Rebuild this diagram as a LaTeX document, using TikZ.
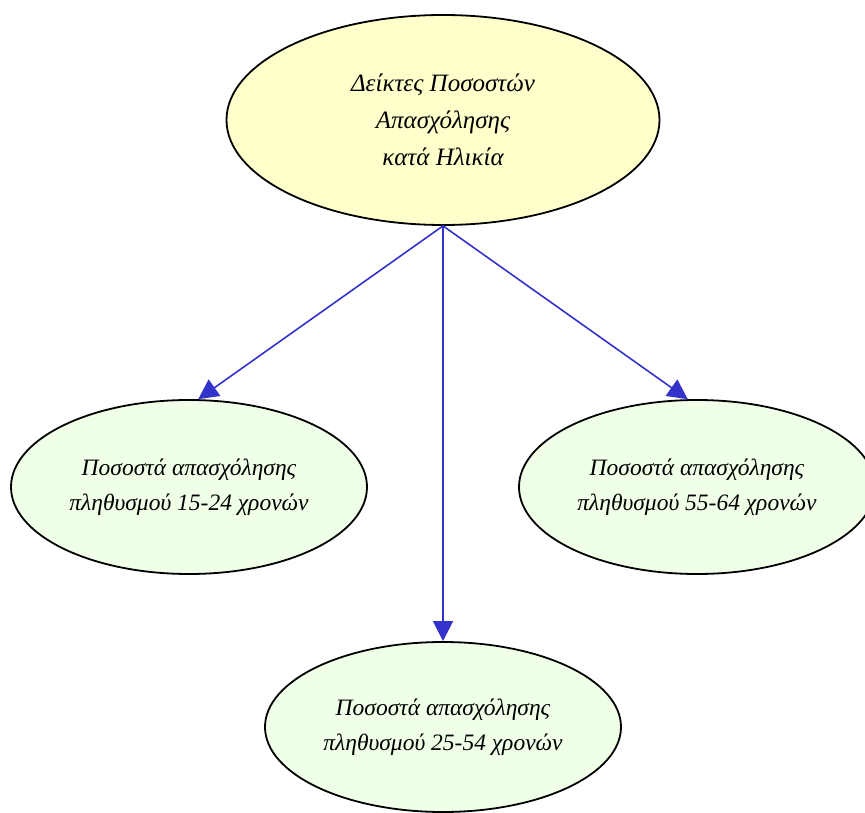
\documentclass[tikz,border=0pt]{standalone}
\usepackage{fontspec}
\setmainfont{Liberation Serif}
\usetikzlibrary{shapes.geometric,arrows.meta}
\definecolor{edgeblue}{HTML}{3333CC}
\definecolor{topfill}{HTML}{FFFFCC}
\definecolor{leaffill}{HTML}{F0FFE8}
\tikzset{
  blob/.style={ellipse, draw=black, line width=1.8pt, inner sep=0pt, align=center,
    font=\fontsize{23.5}{35}\selectfont\itshape},
  rootblob/.style={blob, fill=topfill, minimum width=433pt, minimum height=210pt,
    font=\fontsize{25}{37}\selectfont\itshape},
  leafblob/.style={blob, fill=leaffill, minimum width=356pt, minimum height=174pt},
  link/.style={draw=edgeblue, line width=1.6pt, -{Triangle[length=20pt,width=20pt]}}
}
\begin{document}
\begin{tikzpicture}[x=1pt,y=1pt]
\useasboundingbox (0,0) rectangle (865,812);
\clip (0,0) rectangle (865,812);
\node[rootblob] (root) at (443,692) {Δείκτες Ποσοστών\\Απασχόλησης\\κατά Ηλικία};
\node[leafblob] (left) at (189,325) {Ποσοστά απασχόλησης\\πληθυσμού 15-24 χρονών};
\node[leafblob] (right) at (697,325) {Ποσοστά απασχόλησης\\πληθυσμού 55-64 χρονών};
\node[leafblob, minimum height=170pt] (bottom) at (443,85) {Ποσοστά απασχόλησης\\πληθυσμού 25-54 χρονών};
\draw[link] (root.south) -- (left.84);
\draw[link] (root.south) -- (right.96);
\draw[link] (root.south) -- (bottom.north);
\end{tikzpicture}
\end{document}
